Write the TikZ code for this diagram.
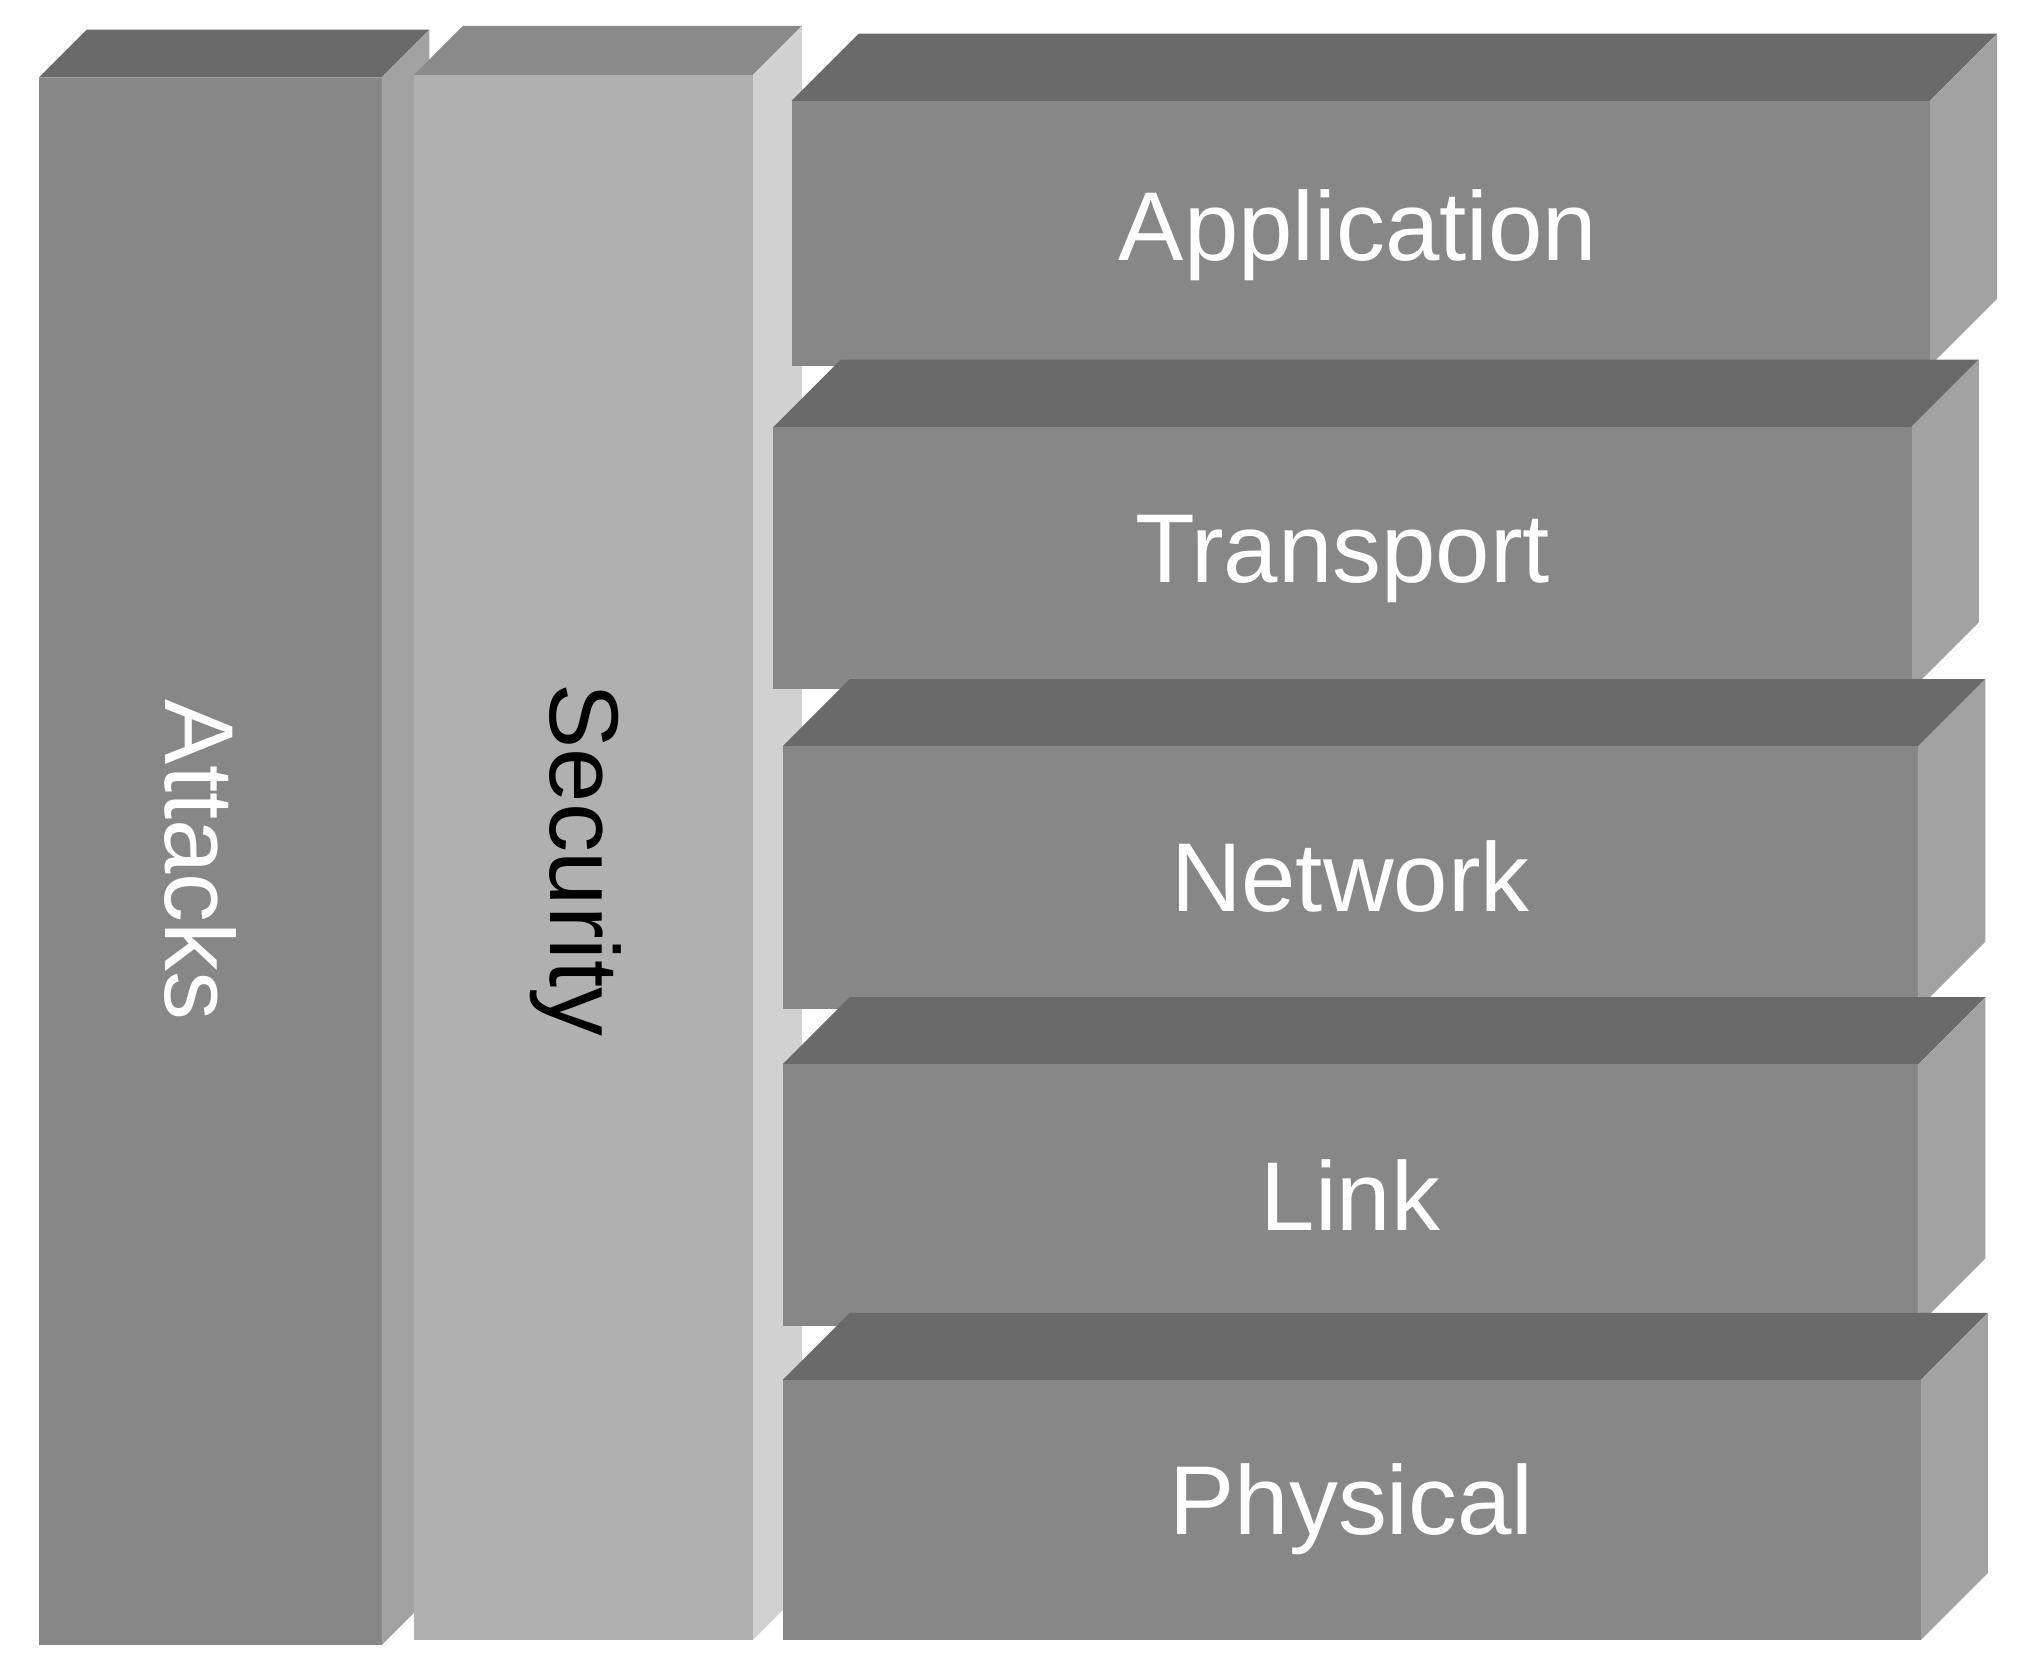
\documentclass[tikz,border=0pt]{standalone}
\usepackage{fontspec}
\setmainfont{Liberation Sans}
\usetikzlibrary{positioning}

% front, top and side face of a block: x0 y0 x1 y1 depth front top side
\newcommand\slab[8]{%
  \fill[#7] (#1,#2) -- ++(#5,-#5) -- (#3+#5,#2-#5) -- (#3,#2) -- cycle;
  \fill[#8] (#3,#2) -- (#3+#5,#2-#5) -- (#3+#5,#4-#5) -- (#3,#4) -- cycle;
  \fill[#6] (#1,#2) rectangle (#3,#4);
}

\definecolor{frontgray}{HTML}{878787}
\definecolor{topgray}{HTML}{6A6A6A}
\definecolor{sidegray}{HTML}{A2A2A2}

\begin{document}
\begin{tikzpicture}[x=0.01cm,y=-0.01cm]

	\tikzstyle{lbl} = [text=white, font=\fontsize{21.5}{24}\selectfont]

	\useasboundingbox (0,0) rectangle (1561,1298);

	\slab{30}{60}{295}{1272}{37}{frontgray}{topgray}{sidegray}
	\slab{320}{58}{582}{1268}{38}{black!31}{black!46}{black!18}
	\slab{612}{78}{1492}{283}{52}{frontgray}{topgray}{sidegray}
	\slab{598}{330}{1478}{533}{52}{frontgray}{topgray}{sidegray}
	\slab{605}{577}{1483}{780}{52}{frontgray}{topgray}{sidegray}
	\slab{605}{823}{1483}{1025}{52}{frontgray}{topgray}{sidegray}
	\slab{605}{1067}{1485}{1268}{52}{frontgray}{topgray}{sidegray}

	\node [lbl, rotate=-90] (attacks) at (155,665) {Attacks};
	\node [lbl, text=black, rotate=-90] (security) at (445,665) {Security};
	\node [lbl] (app) at (1050,182) {Application};
	\node [lbl] (trans) at (1038,432) {Transport};
	\node [lbl] (net) at (1044,678) {Network};
	\node [lbl] (link) at (1044,924) {Link};
	\node [lbl] (phys) at (1045,1167) {Physical};

\end{tikzpicture}
\end{document}
